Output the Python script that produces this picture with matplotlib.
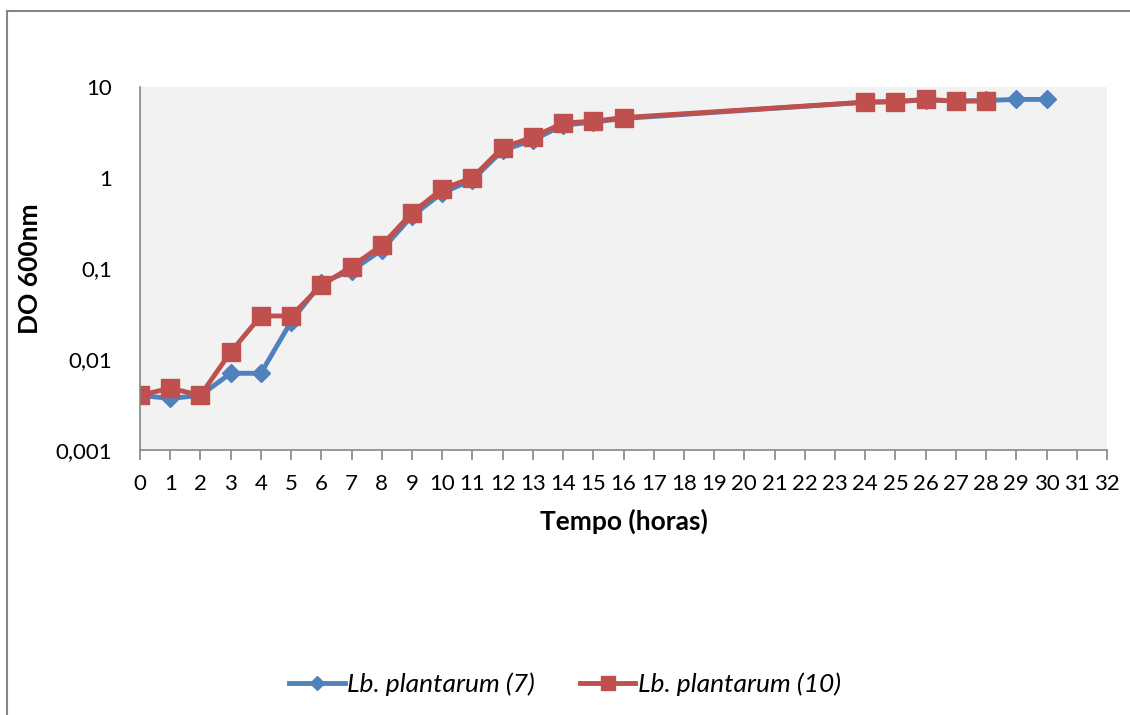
import matplotlib
matplotlib.use("Agg")
from matplotlib import pyplot as plt
from matplotlib.lines import Line2D
from matplotlib.ticker import FixedLocator, FuncFormatter

# hours and optical density (DO 600nm)
t7 = [0, 1, 2, 3, 4, 5, 6, 7, 8, 9, 10, 11, 12, 13, 14, 15, 16, 24, 25, 26, 27, 28, 29, 30]
do7 = [0.004, 0.0037, 0.004, 0.007, 0.007, 0.026, 0.07, 0.095, 0.16, 0.38, 0.68, 0.95,
       2.0, 2.6, 3.8, 4.1, 4.5, 6.8, 6.9, 7.2, 7.0, 7.1, 7.3, 7.3]

t10 = [0, 1, 2, 3, 4, 5, 6, 7, 8, 9, 10, 11, 12, 13, 14, 15, 16, 24, 25, 26, 27, 28]
do10 = [0.004, 0.0048, 0.004, 0.012, 0.030, 0.030, 0.065, 0.105, 0.18, 0.41, 0.75, 1.0,
        2.15, 2.8, 4.0, 4.2, 4.6, 6.8, 6.9, 7.3, 7.0, 7.0]

labels = ["Lb. plantarum (7)", "Lb. plantarum (10)"]
blue = "#4F81BD"
red = "#C0504D"
grey = "#868686"

plt.rcParams['font.family'] = ['Lato', 'DejaVu Sans']

fig = plt.figure(figsize=(11.3, 7.15), dpi=100)
ax = fig.add_axes([140/1130, 1-450/715, (1107-140)/1130, (450-87)/715])
ax.set_facecolor("#F2F2F2")

ax.plot(t7, do7, color=blue, lw=3.5, marker="D", ms=9, mec=blue, mfc=blue, label=labels[0])
ax.plot(t10, do10, color=red, lw=3.5, marker="s", ms=13, mec=red, mfc=red, label=labels[1])

ax.set_yscale("log")
ax.set_ylim(0.001, 10)
ax.set_xlim(0, 32)
ax.xaxis.set_major_locator(FixedLocator(range(0, 33)))
ax.yaxis.set_major_locator(FixedLocator([0.001, 0.01, 0.1, 1, 10]))
ax.yaxis.set_minor_locator(FixedLocator([]))
ax.yaxis.set_major_formatter(FuncFormatter(lambda v, p: ("%g" % v).replace(".", ",")))

for s in ["top", "right"]:
    ax.spines[s].set_visible(False)
for s in ["left", "bottom"]:
    ax.spines[s].set_color(grey)
    ax.spines[s].set_linewidth(1.2)
ax.tick_params(axis="x", length=7, width=1.2, color=grey, labelsize=16, pad=10)
ax.tick_params(axis="y", length=0, labelsize=16, pad=20)

ax.set_xlabel("Tempo (horas)", fontsize=19, fontweight="bold")
ax.xaxis.set_label_coords(0.5, (450-521)/363)
ax.set_ylabel("DO 600nm", fontsize=19, fontweight="bold")
ax.yaxis.set_label_coords((30-140)/967, 0.5)
ax.xaxis.label.set_va("center")
ax.yaxis.label.set_va("center")

leg = fig.legend(loc="center", bbox_to_anchor=(0.5, 1-684/715), ncol=2, frameon=False,
                 prop={"size": 19, "style": "italic"}, handlelength=2.1, handletextpad=0.1,
                 columnspacing=1.7, markerscale=0.8)

# outer chart border (top and left only visible)
fig.add_artist(Line2D([7/1130, 7/1130], [0, 1-11/715], color=grey, lw=1.5))
fig.add_artist(Line2D([7/1130, 1], [1-11/715, 1-11/715], color=grey, lw=1.5))

fig.savefig("out.png", dpi=100)
